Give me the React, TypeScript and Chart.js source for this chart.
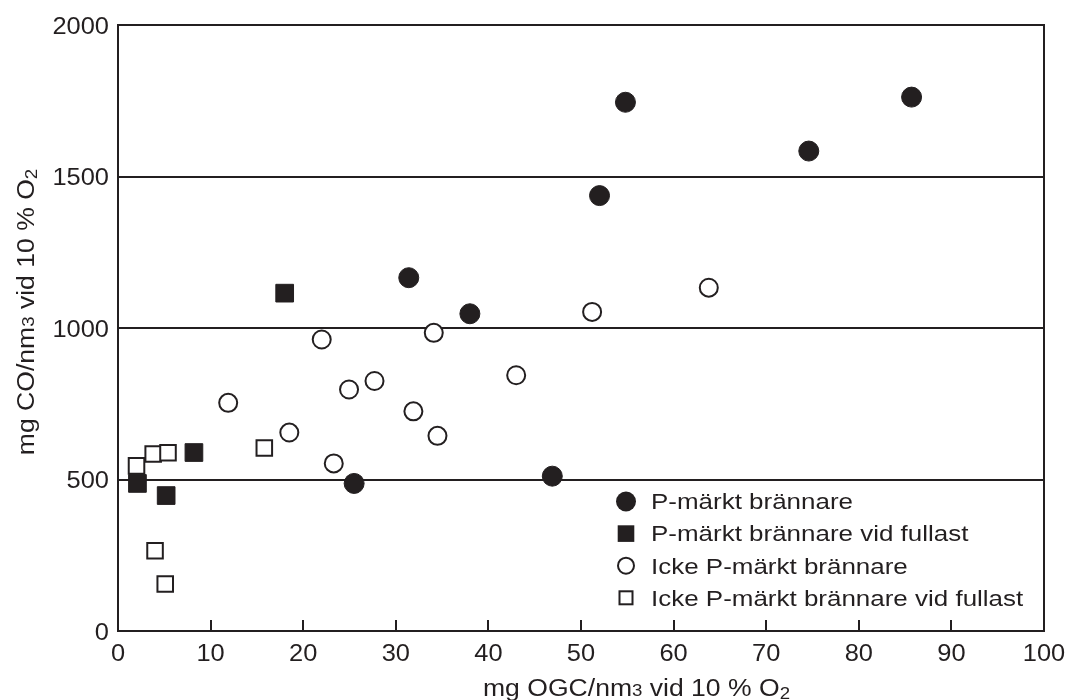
import React, { useEffect, useRef } from 'react';
import { Chart, registerables } from 'chart.js';

Chart.register(...registerables);

const INK = '#231f20';
const FONT = '"Liberation Sans", Arial, Helvetica, sans-serif';

// ---- data ----
const seriesLabels = [
  'P-märkt brännare',
  'P-märkt brännare vid fullast',
  'Icke P-märkt brännare',
  'Icke P-märkt brännare vid fullast',
];

const pCircleX = [54.8, 85.7, 74.6, 52.0, 31.4, 38.0, 25.5, 46.9];
const pCircleY = [1745, 1762, 1584, 1437, 1166, 1047, 487, 511];

const pSquareX = [18.0, 8.2, 2.1, 5.2];
const pSquareY = [1115, 589, 487, 447];

const iCircleX = [11.9, 18.5, 22.0, 23.3, 24.95, 27.7, 31.9, 34.1, 34.5, 43.0, 51.2, 63.8];
const iCircleY = [753, 655, 962, 553, 797, 825, 725, 984, 644, 844, 1053, 1133];

const iSquareX = [2.0, 3.8, 5.4, 15.8, 4.0, 5.1];
const iSquareY = [545, 584, 588, 604, 265, 155];

const xTickValues = [0, 10, 20, 30, 40, 50, 60, 70, 80, 90, 100];
const yTickValues = [0, 500, 1000, 1500, 2000];

const xTitleParts = [
  { text: 'mg OGC/nm', kind: 'main' },
  { text: '3', kind: 'sup' },
  { text: ' vid 10 % O', kind: 'main' },
  { text: '2', kind: 'sub' },
];
const yTitleParts = [
  { text: 'mg CO/nm', kind: 'main' },
  { text: '3', kind: 'sup' },
  { text: ' vid 10 % O', kind: 'main' },
  { text: '2', kind: 'sub' },
];

const toPoints = (xs: number[], ys: number[]) => xs.map((x, i) => ({ x, y: ys[i] }));

// ---- text helpers ----
function drawStretched(ctx: CanvasRenderingContext2D, text: string, x: number, y: number, size: number, stretch: number, align: 'left' | 'center' | 'right') {
  ctx.save();
  ctx.font = `${size}px ${FONT}`;
  ctx.textAlign = 'left';
  ctx.textBaseline = 'alphabetic';
  const w = ctx.measureText(text).width * stretch;
  const x0 = align === 'right' ? x - w : align === 'center' ? x - w / 2 : x;
  ctx.translate(x0, y);
  ctx.scale(stretch, 1);
  ctx.fillStyle = INK;
  ctx.fillText(text, 0, 0);
  ctx.restore();
}

function drawRich(ctx: CanvasRenderingContext2D, parts: { text: string; kind: string }[], x: number, y: number, align: 'left' | 'center') {
  const MAIN = 23.5;
  const SMALL = 16.5;
  const ST = 1.13;
  const sizeOf = (k: string) => (k === 'main' ? MAIN : SMALL);
  const dyOf = (k: string) => (k === 'sub' ? 3 : 0);
  ctx.save();
  let total = 0;
  const widths = parts.map((p) => {
    ctx.font = `${sizeOf(p.kind)}px ${FONT}`;
    const w = ctx.measureText(p.text).width * ST;
    total += w;
    return w;
  });
  let cx = align === 'center' ? x - total / 2 : x;
  parts.forEach((p, i) => {
    drawStretched(ctx, p.text, cx, y + dyOf(p.kind), sizeOf(p.kind), ST, 'left');
    cx += widths[i];
  });
  ctx.restore();
}

const decorPlugin = {
  id: 'decor',
  beforeDatasetsDraw(chart: any) {
    const { ctx, chartArea: a, scales } = chart;
    const xs = scales.x;
    ctx.save();
    ctx.strokeStyle = INK;
    ctx.lineWidth = 2;
    xs.ticks.forEach((t: any) => {
      if (t.value <= xs.min || t.value >= xs.max) return;
      const px = Math.round(xs.getPixelForValue(t.value));
      ctx.beginPath();
      ctx.moveTo(px, a.bottom);
      ctx.lineTo(px, a.bottom - 11);
      ctx.stroke();
    });
    ctx.strokeRect(a.left, a.top, a.right - a.left, a.bottom - a.top);
    ctx.restore();
  },
  afterDraw(chart: any) {
    const { ctx, chartArea: a, scales } = chart;
    const xs = scales.x;
    const ys = scales.y;
    // tick labels
    xs.ticks.forEach((t: any) => {
      const px = xs.getPixelForValue(t.value);
      drawStretched(ctx, String(t.value), px, a.bottom + 29.5, 24, 1.06, 'center');
    });
    ys.ticks.forEach((t: any) => {
      const py = ys.getPixelForValue(t.value);
      drawStretched(ctx, String(t.value), a.left - 9, py + 8.7, 24, 1.06, 'right');
    });
    // axis titles
    drawRich(ctx, xTitleParts, 483, 696, 'left');
    ctx.save();
    ctx.translate(34, (a.top + a.bottom) / 2 - 16);
    ctx.rotate(-Math.PI / 2);
    drawRich(ctx, yTitleParts, 0, 0, 'center');
    ctx.restore();
    // legend
    const mx = a.right - 418;
    const tx = a.right - 393;
    const y0 = a.bottom - 129.5;
    const gap = 32.1;
    chart.data.datasets.forEach((ds: any, i: number) => {
      const cy = y0 + i * gap;
      ctx.save();
      ctx.strokeStyle = INK;
      ctx.fillStyle = ds.backgroundColor;
      ctx.lineWidth = 2;
      const filled = ds.backgroundColor === INK;
      if (ds.pointStyle === 'circle') {
        ctx.beginPath();
        ctx.arc(mx, cy, filled ? 10 : 8, 0, Math.PI * 2);
        ctx.fill();
        if (!filled) ctx.stroke();
      } else {
        if (filled) {
          ctx.fillRect(mx - 8.3, cy - 8.3, 16.6, 16.6);
        } else {
          ctx.fillRect(mx - 6.5, cy - 6.5, 13, 13);
          ctx.strokeRect(mx - 6.5, cy - 6.5, 13, 13);
        }
      }
      ctx.restore();
      drawStretched(ctx, ds.label, tx, cy + 7.8, 22, 1.18, 'left');
    });
  },
};

export default function App() {
  const canvasRef = useRef<HTMLCanvasElement | null>(null);

  useEffect(() => {
    if (!canvasRef.current) return;
    const chart = new Chart(canvasRef.current, {
      type: 'scatter',
      data: {
        datasets: [
          {
            label: seriesLabels[0],
            data: toPoints(pCircleX, pCircleY),
            pointStyle: 'circle',
            pointRadius: 10,
            borderWidth: 1,
            backgroundColor: INK,
            borderColor: INK,
          },
          {
            label: seriesLabels[1],
            data: toPoints(pSquareX, pSquareY),
            pointStyle: 'rect',
            pointRadius: 12.5,
            borderWidth: 1,
            backgroundColor: INK,
            borderColor: INK,
          },
          {
            label: seriesLabels[2],
            data: toPoints(iCircleX, iCircleY),
            pointStyle: 'circle',
            pointRadius: 9,
            borderWidth: 2,
            backgroundColor: '#ffffff',
            borderColor: INK,
          },
          {
            label: seriesLabels[3],
            data: toPoints(iSquareX, iSquareY),
            pointStyle: 'rect',
            pointRadius: 11,
            borderWidth: 2,
            backgroundColor: '#ffffff',
            borderColor: INK,
          },
        ],
      },
      options: {
        animation: false,
        responsive: true,
        maintainAspectRatio: false,
        events: [],
        layout: { padding: { left: 0, right: 22, top: 25, bottom: 0 } },
        plugins: { legend: { display: false }, tooltip: { enabled: false } },
        scales: {
          x: {
            type: 'linear',
            min: 0,
            max: 100,
            afterBuildTicks: (s: any) => {
              s.ticks = xTickValues.map((v) => ({ value: v }));
            },
            ticks: { display: false },
            grid: { display: false },
            border: { display: false },
            afterFit: (s: any) => {
              s.height = 69;
            },
          },
          y: {
            type: 'linear',
            min: 0,
            max: 2000,
            afterBuildTicks: (s: any) => {
              s.ticks = yTickValues.map((v) => ({ value: v }));
            },
            ticks: { display: false },
            grid: { color: INK, lineWidth: 2, drawTicks: false },
            border: { display: false },
            afterFit: (s: any) => {
              s.width = 118;
            },
          },
        },
      },
      plugins: [decorPlugin],
    } as any);
    return () => chart.destroy();
  }, []);

  return (
    <div style={{ position: 'absolute', left: 0, top: 0, width: 1066, height: 700, background: '#ffffff' }}>
      <canvas ref={canvasRef} />
    </div>
  );
}
